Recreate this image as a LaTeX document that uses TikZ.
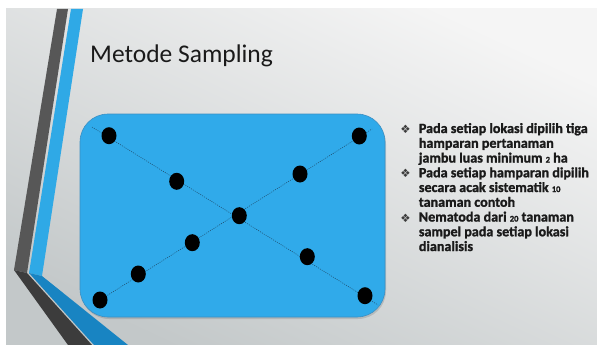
\documentclass[tikz,border=0pt]{standalone}
\usepackage{fontspec}
\setmainfont{Carlito}
\newfontfamily\heavyf[BoldFeatures={FakeBold=1.4}]{Carlito}
\newfontfamily\symf{DejaVu Sans}
\usetikzlibrary{shapes.geometric}
\definecolor{darkband}{HTML}{575757}
\definecolor{darkbandlow}{HTML}{3C3C3C}
\definecolor{blueband}{HTML}{2FA9E6}
\definecolor{bluebandlow}{HTML}{1884C2}
\definecolor{boxblue}{HTML}{30AAEA}
\definecolor{boxedge}{HTML}{3C8FC2}
\definecolor{lineink}{HTML}{1E4A6A}
\definecolor{ink}{HTML}{1A1A1A}
\newcommand\smn[1]{{\fontsize{8.5}{8.5}\selectfont #1}}
\tikzset{
  dot/.style={ellipse, fill=black, minimum width=15pt, minimum height=17pt, inner sep=0pt},
  dotline/.style={lineink, line width=0.5pt, dash pattern=on 1pt off 1.2pt},
  bul/.style={inner sep=0pt, text=ink!85, font=\symf\fontsize{11.5}{11.5}\selectfont},
  txt/.style={anchor=base west, inner sep=0pt, text=ink, font=\heavyf\bfseries\fontsize{14.1}{14.75}\selectfont},
  ttl/.style={anchor=base west, inner sep=0pt, text=ink, font=\fontsize{25.5}{30}\selectfont}
}
\begin{document}
\begin{tikzpicture}[x=1pt,y=-1pt]
\useasboundingbox (0,0) rectangle (597,345);
\fill[white] (0,0) rectangle (597,345);
% slide background
\shade[top color=gray!8, bottom color={rgb,255:red,195;green,200;blue,201}, shading angle=-25] (6,9) rectangle (597,345);
% left decoration
\fill[darkband] (57,9) -- (68,9) -- (27,273) -- (14,270) -- cycle;
\fill[darkbandlow] (14,270) -- (27,273) -- (92,345) -- (68,345) -- cycle;
\fill[blueband] (71,9) -- (83,9) -- (42,276) -- (29,273) -- cycle;
\fill[bluebandlow] (29,273) -- (42,276) -- (128,345) -- (94,345) -- cycle;
% title
\node[ttl] (title) at (90,62.3) {Metode Sampling};
% box
\fill[black, opacity=0.12, rounded corners=28pt] (81,116) rectangle (386,319);
\filldraw[fill=boxblue, draw=boxedge, line width=0.6pt, rounded corners=28pt] (80,114) rectangle (385,317);
% line ends
\coordinate (a1) at (92,127);
\coordinate (a2) at (378,305);
\coordinate (b2) at (372,129);
\coordinate (c10) at (100,300);
\draw[dotline] (a1) -- (a2);
\draw[dotline] (c10) -- (b2);
% dots
\node[dot] (d1) at (109,135.7) {};
\node[dot] (d2) at (176.7,181.3) {};
\node[dot] (d3) at (239.3,215.7) {};
\node[dot] (d4) at (307.3,256.7) {};
\node[dot] (d5) at (365,295.7) {};
\node[dot] (d6) at (359.3,136) {};
\node[dot] (d7) at (300,174) {};
\node[dot] (d8) at (192.3,242.7) {};
\node[dot] (d9) at (138.3,274) {};
\node[dot] (d10) at (c10) {};
% bullets text
\node[bul] (b1) at (405.5,129.5) {❖};
\node[txt] (t1) at (418.7,133) {Pada setiap lokasi dipilih tiga};
\node[txt] (t2) at (418.7,147.75) {hamparan pertanaman};
\node[txt] (t3) at (418.7,162.5) {jambu luas minimum \smn{2} ha};
\node[bul] (b2n) at (405.5,173.75) {❖};
\node[txt] (t4) at (418.7,177.25) {Pada setiap hamparan dipilih};
\node[txt] (t5) at (418.7,192) {secara acak sistematik \smn{10}};
\node[txt] (t6) at (418.7,206.75) {tanaman contoh};
\node[bul] (b3) at (405.5,218) {❖};
\node[txt] (t7) at (418.7,221.5) {Nematoda dari \smn{20} tanaman};
\node[txt] (t8) at (418.7,236.25) {sampel pada setiap lokasi};
\node[txt] (t9) at (418.7,251) {dianalisis};
\end{tikzpicture}
\end{document}
